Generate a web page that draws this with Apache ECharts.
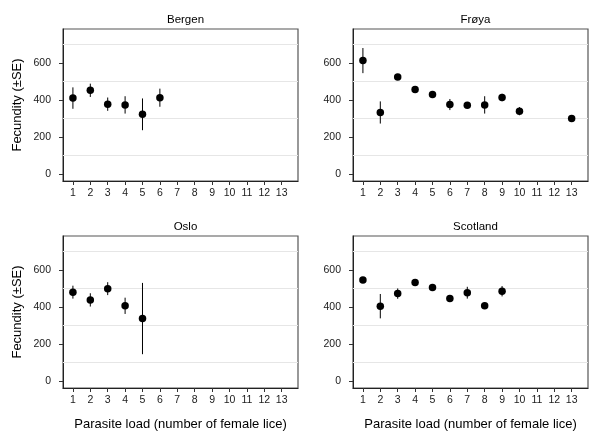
<!DOCTYPE html>
<html>
<head>
<meta charset="utf-8">
<script src="https://cdn.jsdelivr.net/npm/echarts@6/dist/echarts.min.js"></script>
<style>
  html, body { margin: 0; padding: 0; background: #fff; }
  #chart { width: 591px; height: 432px; }
</style>
</head>
<body>
<div id="chart"></div>
<script>
// panel names, in order: top-left, top-right, bottom-left, bottom-right
const sites = ['Bergen', 'Frøya', 'Oslo', 'Scotland'];
const xTicks = [1, 2, 3, 4, 5, 6, 7, 8, 9, 10, 11, 12, 13];
const yTicks = [0, 200, 400, 600];
const gridLines = [100, 300, 500, 700];

// parasite load, mean fecundity, SE per site
const bergenLoad = [1, 2, 3, 4, 5, 6];
const bergenMean = [410, 452, 377, 373, 322, 412];
const bergenSE   = [58, 36, 36, 47, 86, 49];

const froyaLoad = [1, 2, 3, 4, 5, 6, 7, 8, 9, 10, 13];
const froyaMean = [613, 332, 524, 456, 429, 375, 371, 373, 413, 339, 299];
const froyaSE   = [68, 60, 10, 8, 8, 30, 10, 47, 20, 22, 5];

const osloLoad = [1, 2, 3, 4, 5];
const osloMean = [480, 438, 499, 406, 337];
const osloSE   = [35, 36, 35, 44, 193];

const scotLoad = [1, 2, 3, 4, 5, 6, 7, 8, 9];
const scotMean = [546, 404, 472, 532, 505, 445, 477, 406, 485];
const scotSE   = [8, 66, 28, 10, 12, 10, 32, 15, 28];

const loads = [bergenLoad, froyaLoad, osloLoad, scotLoad];
const means = [bergenMean, froyaMean, osloMean, scotMean];
const ses = [bergenSE, froyaSE, osloSE, scotSE];

const font = 'Liberation Sans, Arial, sans-serif';
const grids = [
    { left: 63, top: 29, width: 235, height: 152 },
    { left: 353, top: 29, width: 235, height: 152 },
    { left: 63, top: 236, width: 235, height: 153 },
    { left: 353, top: 236, width: 235, height: 153 }
];

const chart = echarts.init(document.getElementById('chart'));

const xAxes = grids.map((g, i) => ({
    type: 'value',
    gridIndex: i,
    min: 0.43,
    max: 13.94,
    name: i >= 2 ? 'Parasite load (number of female lice)' : '',
    nameLocation: 'middle',
    nameGap: 30,
    nameTextStyle: { fontFamily: font, fontSize: 13, color: '#000' },
    axisLine: { show: true, onZero: false, lineStyle: { color: '#222', width: 1 } },
    axisTick: { show: true, length: 4, customValues: xTicks, lineStyle: { color: '#333' } },
    axisLabel: { customValues: xTicks, margin: 7, fontFamily: font, fontSize: 10.5, color: '#1a1a1a' },
    splitLine: { show: false }
}));

const yAxes = grids.map((g, i) => ({
    type: 'value',
    gridIndex: i,
    min: -39,
    max: 784,
    name: i % 2 === 0 ? 'Fecundity (±SE)' : '',
    nameLocation: 'middle',
    nameGap: 39,
    nameTextStyle: { fontFamily: font, fontSize: 13, color: '#000' },
    axisLine: { show: true, onZero: false, lineStyle: { color: '#222', width: 1 } },
    axisTick: { show: true, length: 4, customValues: yTicks, lineStyle: { color: '#333' } },
    axisLabel: { customValues: yTicks, margin: 12, fontFamily: font, fontSize: 10.5, color: '#1a1a1a' },
    splitLine: { show: false }
}));

const series = [];
sites.forEach((site, i) => {
    const pts = loads[i].map((x, k) => [x, means[i][k]]);
    const bars = loads[i].map((x, k) => [x, means[i][k] - ses[i][k], means[i][k] + ses[i][k]]);
    // error bars
    series.push({
        type: 'custom',
        xAxisIndex: i,
        yAxisIndex: i,
        data: bars,
        silent: true,
        z: 3,
        renderItem: function (params, api) {
            const lo = api.coord([api.value(0), api.value(1)]);
            const hi = api.coord([api.value(0), api.value(2)]);
            return {
                type: 'line',
                shape: { x1: lo[0], y1: lo[1], x2: hi[0], y2: hi[1] },
                style: { stroke: '#000', lineWidth: 1 }
            };
        }
    });
    // points + horizontal grid lines
    series.push({
        type: 'scatter',
        xAxisIndex: i,
        yAxisIndex: i,
        data: pts,
        symbolSize: 7.5,
        itemStyle: { color: '#000', opacity: 1 },
        z: 4,
        markLine: {
            silent: true,
            symbol: 'none',
            label: { show: false },
            lineStyle: { color: '#e6e6e6', width: 1, type: 'solid' },
            z: 1,
            data: gridLines.map(v => ({ yAxis: v }))
        }
    });
});

const option = {
    animation: false,
    backgroundColor: '#fff',
    title: sites.map((s, i) => ({
        text: s,
        left: grids[i].left + grids[i].width / 2,
        top: grids[i].top - 20,
        textAlign: 'center',
        textStyle: { fontFamily: font, fontSize: 11.5, fontWeight: 'normal', color: '#000' }
    })),
    grid: grids.map(g => Object.assign({ show: true, borderColor: '#555', borderWidth: 1.2, backgroundColor: 'transparent' }, g)),
    xAxis: xAxes,
    yAxis: yAxes,
    series: series
};

chart.setOption(option);
</script>
</body>
</html>
